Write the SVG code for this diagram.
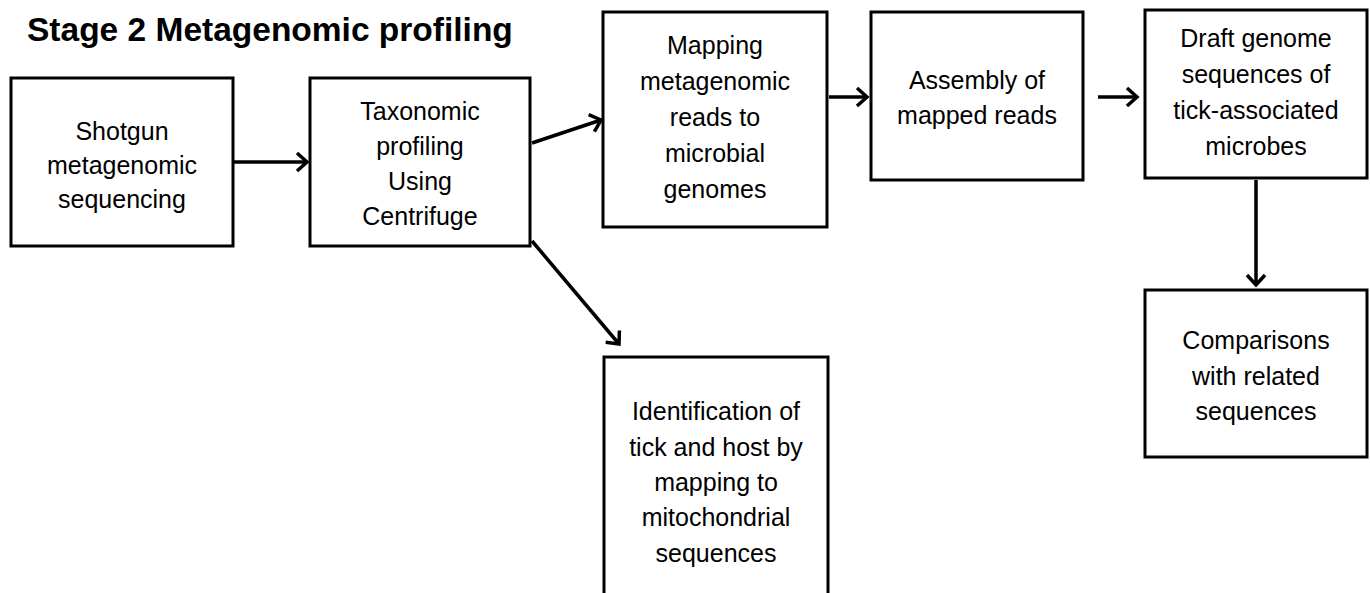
<svg xmlns="http://www.w3.org/2000/svg" width="1370" height="593" viewBox="0 0 1370 593">
<style>
.box{fill:#fff;stroke:#000;stroke-width:3}
.t{font-family:"Liberation Sans",Arial,sans-serif;font-size:25px;fill:#000;text-anchor:middle}
.title{font-family:"Liberation Sans",Arial,sans-serif;font-size:33.5px;font-weight:bold;fill:#000}
.c{stroke:#000;stroke-width:3.5;fill:none;marker-end:url(#ah)}
</style>
<defs>
<marker id="ah" markerWidth="10" markerHeight="10" refX="8" refY="5" orient="auto" markerUnits="userSpaceOnUse" viewBox="0 0 10 10" overflow="visible">
<path d="M-2,-4 L8,5 L-2,14" fill="none" stroke="#000" stroke-width="3.5" stroke-linejoin="miter"/>
</marker>
</defs>
<rect width="1370" height="593" fill="#fff"/>
<text class="title" x="27" y="41">Stage 2 Metagenomic profiling</text>
<g id="connectors">
<line class="c" x1="233" y1="162" x2="307" y2="162"/>
<line class="c" x1="532" y1="143" x2="601" y2="120"/>
<line class="c" x1="532" y1="241" x2="619" y2="344"/>
<line class="c" x1="829" y1="97" x2="867" y2="97"/>
<line class="c" x1="1098" y1="97" x2="1137" y2="97"/>
<line class="c" x1="1256" y1="180" x2="1256" y2="285"/>
</g>
<g id="n1"><rect class="box" x="11" y="78" width="222" height="168"/>
<text class="t" x="122" y="140">Shotgun</text><text class="t" x="122" y="174">metagenomic</text><text class="t" x="122" y="208">sequencing</text></g>
<g id="n2"><rect class="box" x="310" y="78" width="220" height="168"/>
<text class="t" x="420" y="120">Taxonomic</text><text class="t" x="420" y="155">profiling</text><text class="t" x="420" y="190">Using</text><text class="t" x="420" y="225">Centrifuge</text></g>
<g id="n3"><rect class="box" x="603" y="12" width="224" height="215"/>
<text class="t" x="715" y="54">Mapping</text><text class="t" x="715" y="90">metagenomic</text><text class="t" x="715" y="126">reads to</text><text class="t" x="715" y="162">microbial</text><text class="t" x="715" y="198">genomes</text></g>
<g id="n4"><rect class="box" x="871" y="12" width="212" height="168"/>
<text class="t" x="977" y="89">Assembly of</text><text class="t" x="977" y="124">mapped reads</text></g>
<g id="n5"><rect class="box" x="1145" y="10" width="222" height="168"/>
<text class="t" x="1256" y="47">Draft genome</text><text class="t" x="1256" y="83">sequences of</text><text class="t" x="1256" y="119">tick-associated</text><text class="t" x="1256" y="155">microbes</text></g>
<g id="n6"><rect class="box" x="1145" y="290" width="222" height="167"/>
<text class="t" x="1256" y="349">Comparisons</text><text class="t" x="1256" y="385">with related</text><text class="t" x="1256" y="420">sequences</text></g>
<g id="n7"><rect class="box" x="604" y="357" width="224" height="250"/>
<text class="t" x="716" y="420">Identification of</text><text class="t" x="716" y="456">tick and host by</text><text class="t" x="716" y="491">mapping to</text><text class="t" x="716" y="526">mitochondrial</text><text class="t" x="716" y="562">sequences</text></g>
</svg>
